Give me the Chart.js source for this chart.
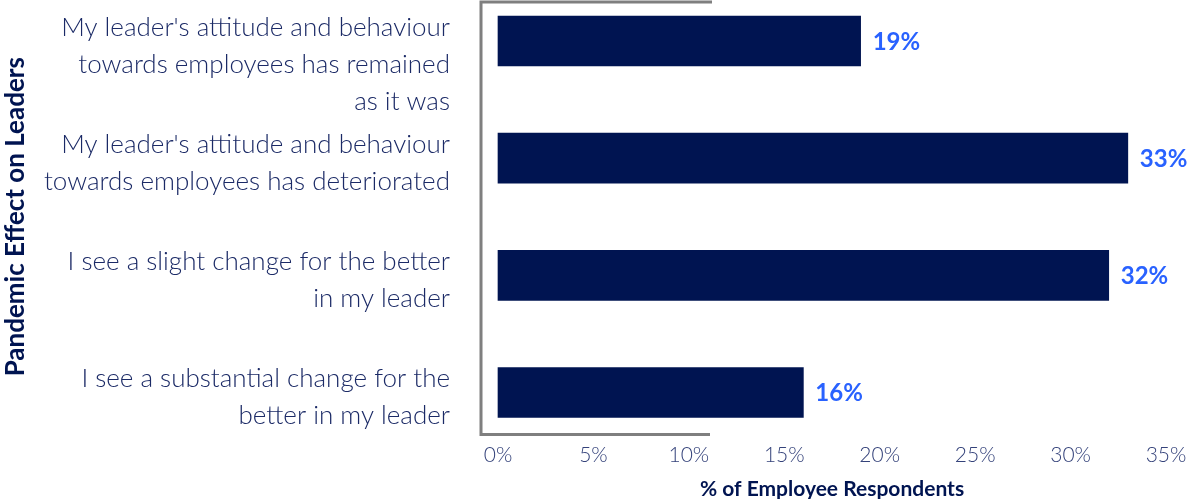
<!DOCTYPE html>
<html>
<head>
<meta charset="utf-8">
<script src="https://cdn.jsdelivr.net/npm/chart.js@4/dist/chart.umd.min.js"></script>
<style>
  html, body { margin: 0; padding: 0; background: #fff; }
  #wrap { width: 1193px; height: 499px; position: relative; }
</style>
</head>
<body>
<div id="wrap"><canvas id="leaders"></canvas></div>
<script>
const categories = [
    ["", "My leader's attitude and behaviour", "towards employees has remained", "as it was"],
    ["My leader's attitude and behaviour", "towards employees has deteriorated"],
    ["I see a slight change for the better", "in my leader"],
    ["I see a substantial change for the", "better in my leader"]
]
const shares = [19, 33, 32, 16]
const tickValues = [0, 5, 10, 15, 20, 25, 30, 35]

const navy = "#001451"

// value labels to the right of each bar
const valueLabels = {
    id: 'valueLabels',
    afterDatasetsDraw(chart) {
        const ctx = chart.ctx
        const meta = chart.getDatasetMeta(0)
        ctx.save()
        ctx.font = "bold 24px Lato"
        ctx.fillStyle = "#2962ff"
        ctx.textAlign = "left"
        ctx.textBaseline = "middle"
        meta.data.forEach((bar, i) => {
            ctx.fillText(shares[i] + "%", bar.x + 12, bar.y + 1)
        })
        ctx.restore()
    }
}

// gray bracket around the category axis
const axisBracket = {
    id: 'axisBracket',
    afterDraw(chart) {
        const ctx = chart.ctx
        const a = chart.chartArea
        const x0 = a.left - 17
        const top = a.top - 39
        const bottom = a.bottom + 42
        ctx.save()
        ctx.strokeStyle = "#7f7f7f"
        ctx.lineWidth = 3
        ctx.beginPath()
        ctx.moveTo(a.left + 214, top)
        ctx.lineTo(x0, top)
        ctx.lineTo(x0, bottom)
        ctx.lineTo(a.left + 212, bottom)
        ctx.stroke()
        ctx.restore()
    }
}

new Chart(document.getElementById("leaders").getContext("2d"), {
    type: 'bar',
    data: {
        labels: categories,
        datasets: [{
            data: shares,
            backgroundColor: navy,
            barThickness: 50,
            clip: false
        }]
    },
    plugins: [valueLabels, axisBracket],
    options: {
        indexAxis: 'y',
        responsive: true,
        maintainAspectRatio: false,
        animation: false,
        layout: { padding: { top: 41, right: 27, left: 0, bottom: 0 } },
        plugins: {
            legend: { display: false },
            tooltip: { enabled: false }
        },
        scales: {
            x: {
                min: 0,
                max: 35,
                afterBuildTicks(scale) {
                    scale.ticks = tickValues.map(v => ({ value: v }))
                },
                afterFit(scale) {
                    scale.height = 106.5
                    scale.paddingLeft = 0
                    scale.paddingRight = 0
                },
                grid: { display: false, drawTicks: false },
                border: { display: false },
                ticks: {
                    padding: 50,
                    color: "#34427a",
                    font: { family: "Lato", size: 21, weight: 300 },
                    callback: v => v + "%"
                },
                title: {
                    display: true,
                    text: "% of Employee Respondents",
                    color: navy,
                    font: { family: "Lato", size: 21, weight: "bold" },
                    padding: { top: 6, bottom: -3 }
                }
            },
            y: {
                offset: false,
                afterFit(scale) {
                    scale.width = 498
                    scale.paddingTop = 0
                    scale.paddingBottom = 0
                },
                grid: { display: false, drawTicks: false },
                border: { display: false },
                ticks: {
                    autoSkip: false,
                    padding: 48,
                    labelOffset: 5,
                    color: "#1b2a66",
                    font: { family: "Lato", size: 26, weight: 300, lineHeight: 1.42 }
                },
                title: {
                    display: true,
                    text: "Pandemic Effect on Leaders",
                    color: navy,
                    font: { family: "Lato", size: 26, weight: "bold" },
                    padding: { top: 0, bottom: 0 }
                }
            }
        }
    }
})
</script>
</body>
</html>
